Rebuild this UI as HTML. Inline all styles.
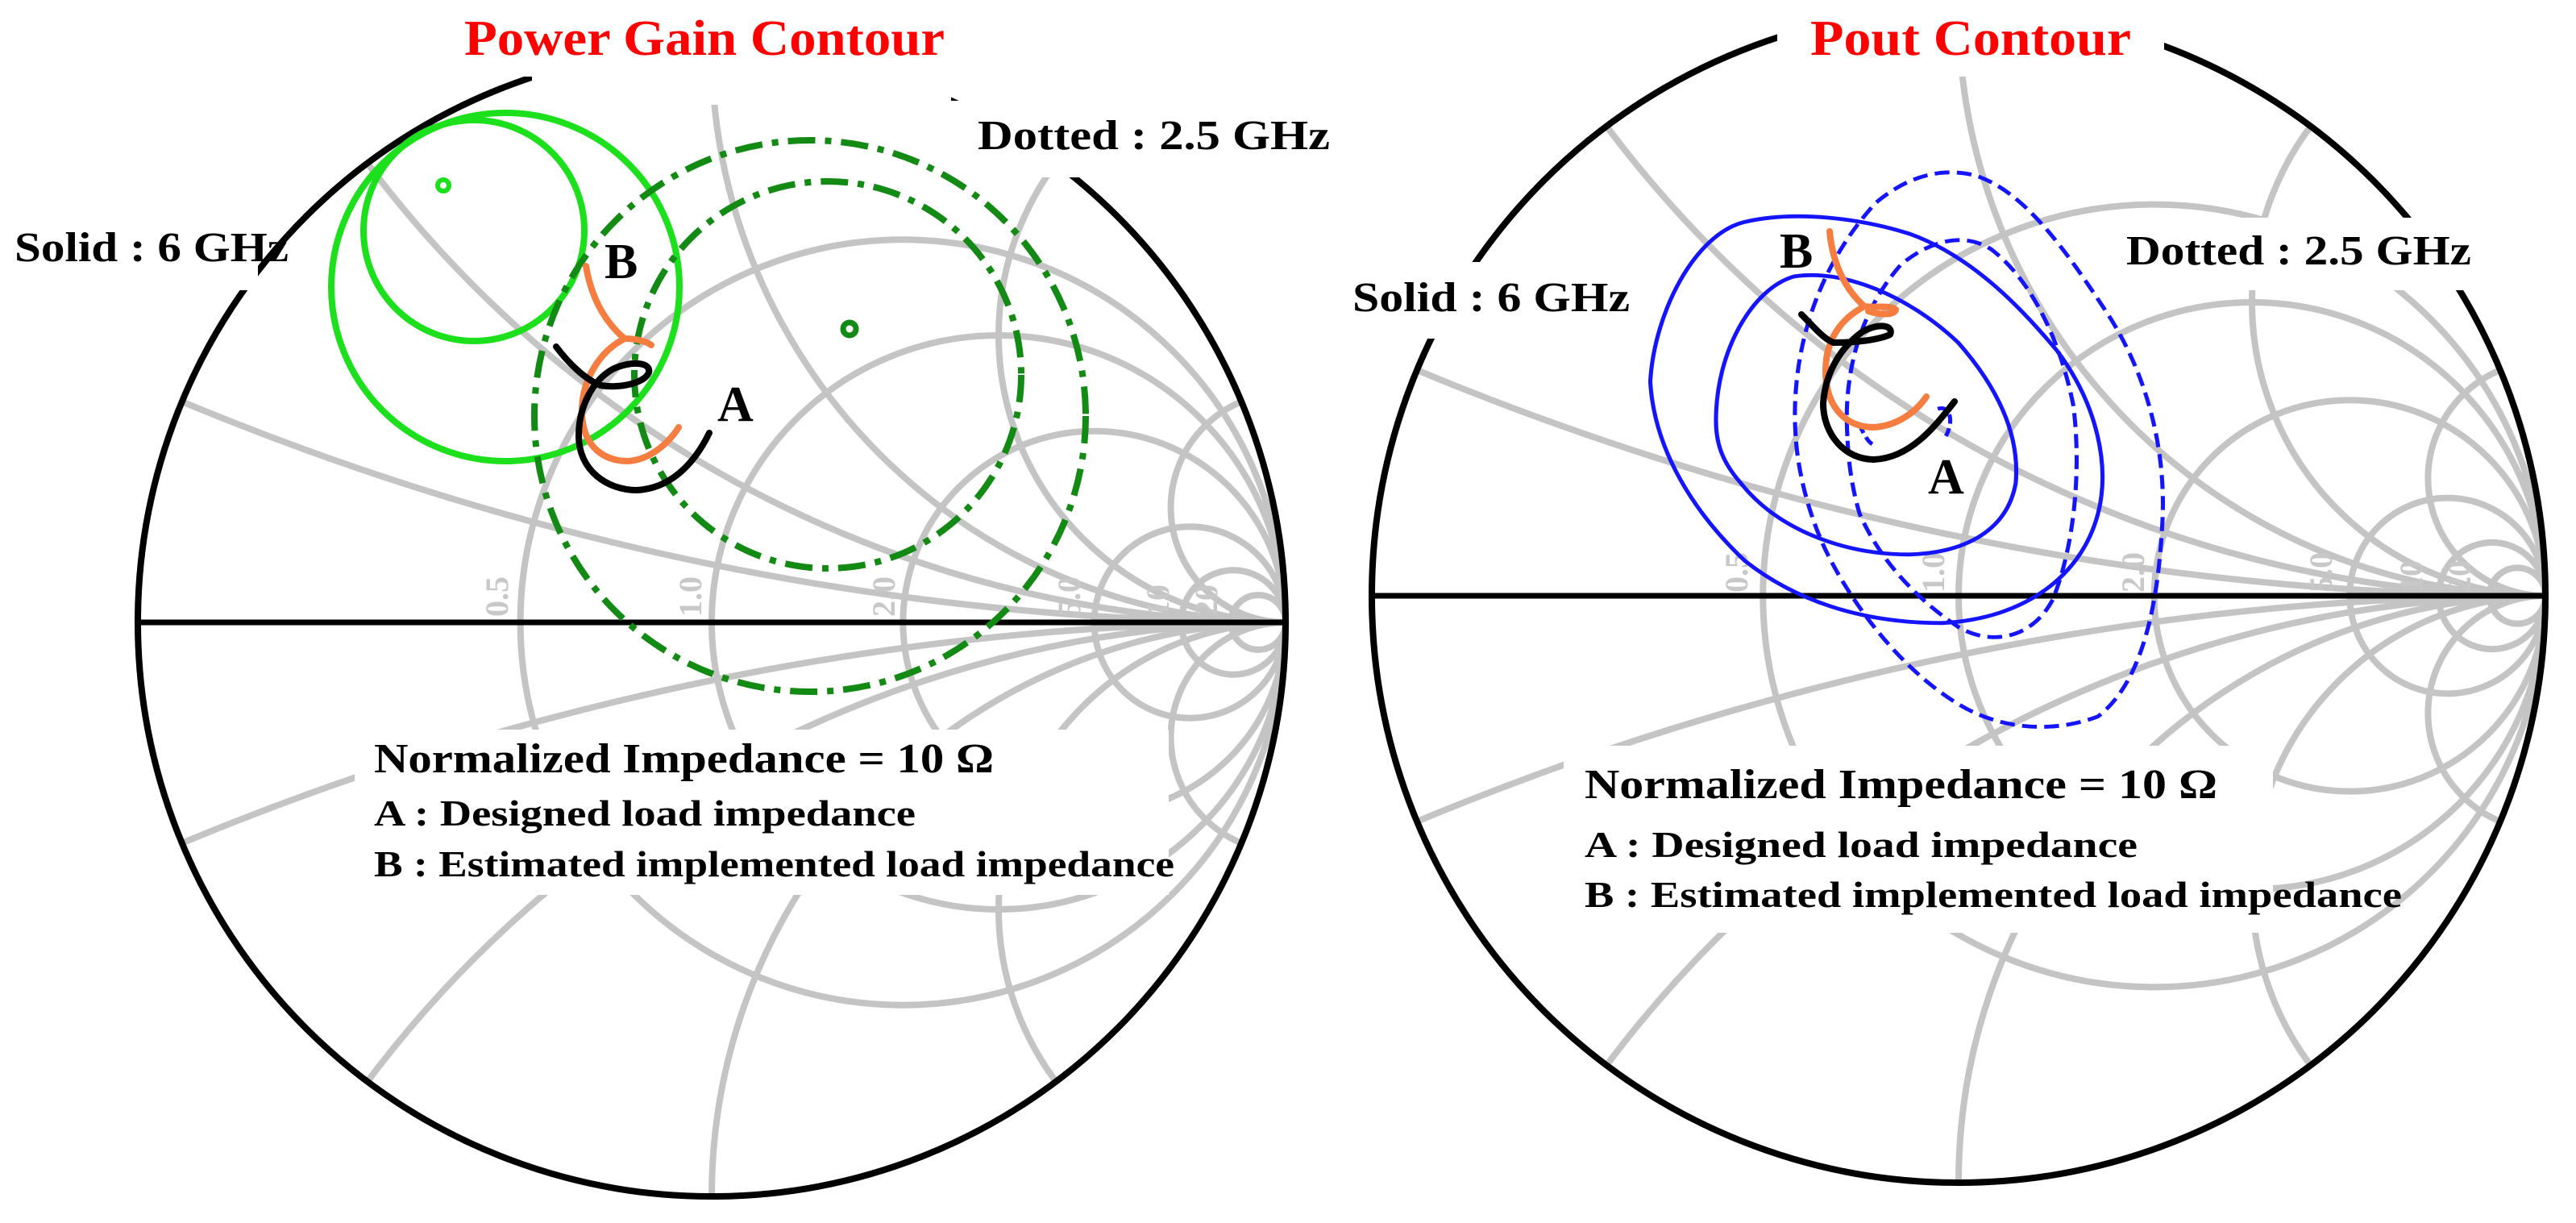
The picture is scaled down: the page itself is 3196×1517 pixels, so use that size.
<!DOCTYPE html>
<html><head><meta charset="utf-8"><style>
html,body{margin:0;padding:0;background:#fff;width:3196px;height:1517px;overflow:hidden;}
svg{display:block;}
.t{font-family:"Liberation Serif",serif;font-weight:bold;}
</style></head><body>
<svg width="3196" height="1517" viewBox="0 0 3196 1517" xmlns="http://www.w3.org/2000/svg">
<defs>
<clipPath id="uc"><circle cx="0" cy="0" r="1"/></clipPath>
<g id="grid" fill="none" stroke="#c4c4c4" stroke-width="8">
 <g clip-path="url(#uc)">
  <circle cx="0.3333" cy="0" r="0.6667" vector-effect="non-scaling-stroke"/>
  <circle cx="0.5" cy="0" r="0.5" vector-effect="non-scaling-stroke"/>
  <circle cx="0.6667" cy="0" r="0.3333" vector-effect="non-scaling-stroke"/>
  <circle cx="0.8333" cy="0" r="0.1667" vector-effect="non-scaling-stroke"/>
  <circle cx="0.9091" cy="0" r="0.0909" vector-effect="non-scaling-stroke"/>
  <circle cx="0.9524" cy="0" r="0.0476" vector-effect="non-scaling-stroke"/>
  <circle cx="1" cy="5" r="5" vector-effect="non-scaling-stroke"/>
  <circle cx="1" cy="-5" r="5" vector-effect="non-scaling-stroke"/>
  <circle cx="1" cy="2" r="2" vector-effect="non-scaling-stroke"/>
  <circle cx="1" cy="-2" r="2" vector-effect="non-scaling-stroke"/>
  <circle cx="1" cy="1" r="1" vector-effect="non-scaling-stroke"/>
  <circle cx="1" cy="-1" r="1" vector-effect="non-scaling-stroke"/>
  <circle cx="1" cy="0.5" r="0.5" vector-effect="non-scaling-stroke"/>
  <circle cx="1" cy="-0.5" r="0.5" vector-effect="non-scaling-stroke"/>
  <circle cx="1" cy="0.2" r="0.2" vector-effect="non-scaling-stroke"/>
  <circle cx="1" cy="-0.2" r="0.2" vector-effect="non-scaling-stroke"/>
 </g>
</g>
</defs>

<!-- LEFT CHART -->
<g transform="translate(883,772) scale(712,712)"><use href="#grid"/></g>
<g class="t" fill="#c8c8c8" font-size="40" font-weight="normal">
 <text transform="translate(630,765) rotate(-90)">0.5</text>
 <text transform="translate(870,765) rotate(-90)">1.0</text>
 <text transform="translate(1110,765) rotate(-90)">2.0</text>
 <text transform="translate(1340,765) rotate(-90)">5.0</text>
 <text transform="translate(1450,765) rotate(-90)">10</text>
 <text transform="translate(1510,765) rotate(-90)">20</text>
</g>
<rect x="440" y="905" width="1010" height="205" fill="#fff"/>
<circle cx="883" cy="772" r="712" fill="none" stroke="#000" stroke-width="8"/>
<rect x="0" y="265" width="320" height="95" fill="#fff"/>
<rect x="1180" y="125" width="480" height="95" fill="#fff"/>
<rect x="660" y="0" width="520" height="130" fill="#fff"/>
<rect x="560" y="0" width="640" height="95" fill="#fff"/>
<line x1="171" y1="772" x2="1595" y2="772" stroke="#000" stroke-width="7"/>

<g fill="none">
 <circle cx="627" cy="356" r="216" stroke="#1de01d" stroke-width="8"/>
 <circle cx="588" cy="286" r="137" stroke="#1de01d" stroke-width="8"/>
 <circle cx="550" cy="230" r="7" stroke="#1de01d" stroke-width="6"/>
 <circle cx="1005" cy="516" r="342" stroke="#138a13" stroke-width="8" stroke-dasharray="34 12 8 12"/>
 <circle cx="1027" cy="465" r="240" stroke="#138a13" stroke-width="8" stroke-dasharray="34 12 8 12"/>
 <circle cx="1054" cy="408" r="8" stroke="#138a13" stroke-width="7"/>
</g>
<g fill="none" stroke-width="8" stroke-linecap="round" stroke-linejoin="round">
 <path d="M727,330 C732,360 745,395 775,420 C785,420 800,422 808,428" stroke="#f47d3f"/>
 <path d="M775,420 C745,435 722,470 722,510 C722,555 750,572 780,572 C805,570 828,552 842,530" stroke="#f47d3f"/>
 <path d="M690,430 C705,450 725,470 745,478 C770,482 800,475 805,462 C808,448 780,448 760,458 C735,472 718,505 718,540 C718,585 755,608 790,608 C830,606 860,578 880,537" stroke="#000"/>
</g>
<text class="t" x="750" y="345" font-size="62">B</text>
<text class="t" x="890" y="522" font-size="62">A</text>

<text class="t" x="576" y="68" font-size="62" fill="#ff0000" textLength="596" lengthAdjust="spacingAndGlyphs">Power Gain Contour</text>
<text class="t" x="1213" y="185" font-size="52" textLength="437" lengthAdjust="spacingAndGlyphs">Dotted : 2.5 GHz</text>
<text class="t" x="18" y="324" font-size="52" textLength="340" lengthAdjust="spacingAndGlyphs">Solid : 6 GHz</text>
<text class="t" x="464" y="958" font-size="52" textLength="769" lengthAdjust="spacingAndGlyphs">Normalized Impedance = 10 Ω</text>
<text class="t" x="464" y="1024" font-size="46" font-weight="normal" textLength="672" lengthAdjust="spacingAndGlyphs">A : Designed load impedance</text>
<text class="t" x="464" y="1087" font-size="46" font-weight="normal" textLength="993" lengthAdjust="spacingAndGlyphs">B : Estimated implemented load impedance</text>

<!-- RIGHT CHART -->
<g transform="translate(2430,739) scale(728,728)"><use href="#grid"/></g>
<g class="t" fill="#c8c8c8" font-size="40" font-weight="normal">
 <text transform="translate(2168,735) rotate(-90)">0.5</text>
 <text transform="translate(2412,735) rotate(-90)">1.0</text>
 <text transform="translate(2660,735) rotate(-90)">2.0</text>
 <text transform="translate(2893,735) rotate(-90)">5.0</text>
 <text transform="translate(3005,735) rotate(-90)">10</text>
 <text transform="translate(3065,735) rotate(-90)">20</text>
</g>
<rect x="1940" y="925" width="880" height="232" fill="#fff"/>
<circle cx="2430" cy="739" r="728" fill="none" stroke="#000" stroke-width="8"/>
<rect x="1660" y="325" width="370" height="95" fill="#fff"/>
<rect x="2620" y="270" width="460" height="90" fill="#fff"/>
<rect x="2205" y="0" width="480" height="95" fill="#fff"/>
<line x1="1702" y1="739" x2="3156" y2="739" stroke="#000" stroke-width="7"/>

<g transform="matrix(1.019,0,0,0.966,1594,0)" fill="none" stroke="#1414ff" stroke-width="5" stroke-linejoin="round">
 <path d="M445,490 C450,400 500,300 560,285 C620,270 700,280 760,300 C840,330 900,400 940,450 C990,520 1005,600 990,660 C970,740 900,795 800,800 C700,800 620,770 560,720 C500,660 450,580 445,490 Z"/>
 <path d="M525,540 C525,450 570,370 620,355 C680,345 760,380 820,440 C870,500 895,560 890,620 C880,680 830,710 760,712 C680,712 600,680 555,620 C530,590 525,565 525,540 Z"/>
 <path d="M622,560 C615,450 650,340 720,260 C760,225 800,215 840,225 C900,245 950,320 1000,400 C1050,480 1075,580 1068,680 C1062,790 1040,880 990,920 C940,940 880,938 830,910 C760,870 700,790 665,720 C640,670 625,610 622,560 Z" stroke-dasharray="18 9"/>
 <path d="M685,560 C680,480 700,400 750,340 C790,305 830,300 860,320 C910,360 945,440 960,520 C970,600 962,700 935,770 C910,820 860,830 820,805 C770,770 725,720 700,660 C690,625 686,590 685,560 Z" stroke-dasharray="18 9"/>
 <path d="M700,545 C705,560 715,575 720,570" stroke-dasharray="12 6"/>
 <path d="M795,525 C810,520 815,540 805,560" stroke-dasharray="12 6"/>
</g>
<g fill="none" stroke-width="8" stroke-linecap="round" stroke-linejoin="round">
 <path d="M2270,287 C2273,320 2285,355 2313,380 C2325,382 2345,378 2352,384 C2350,392 2330,390 2318,386" stroke="#f47d3f"/>
 <path d="M2313,380 C2285,395 2265,420 2265,460 C2265,505 2290,530 2325,530 C2355,528 2378,510 2390,492" stroke="#f47d3f"/>
 <path d="M2235,390 C2250,405 2262,420 2275,425 C2300,425 2330,422 2345,415 C2350,403 2330,400 2310,412 C2285,430 2265,460 2262,500 C2262,540 2290,570 2325,570 C2370,568 2400,530 2425,498" stroke="#000"/>
</g>
<text class="t" x="2208" y="332" font-size="62">B</text>
<text class="t" x="2392" y="612" font-size="62">A</text>

<text class="t" x="2246" y="68" font-size="62" fill="#ff0000" textLength="398" lengthAdjust="spacingAndGlyphs">Pout Contour</text>
<text class="t" x="2638" y="328" font-size="52" textLength="428" lengthAdjust="spacingAndGlyphs">Dotted : 2.5 GHz</text>
<text class="t" x="1678" y="386" font-size="52" textLength="344" lengthAdjust="spacingAndGlyphs">Solid : 6 GHz</text>
<text class="t" x="1966" y="990" font-size="52" textLength="785" lengthAdjust="spacingAndGlyphs">Normalized Impedance = 10 Ω</text>
<text class="t" x="1966" y="1063" font-size="46" font-weight="normal" textLength="686" lengthAdjust="spacingAndGlyphs">A : Designed load impedance</text>
<text class="t" x="1966" y="1125" font-size="46" font-weight="normal" textLength="1014" lengthAdjust="spacingAndGlyphs">B : Estimated implemented load impedance</text>
</svg>
</body></html>
